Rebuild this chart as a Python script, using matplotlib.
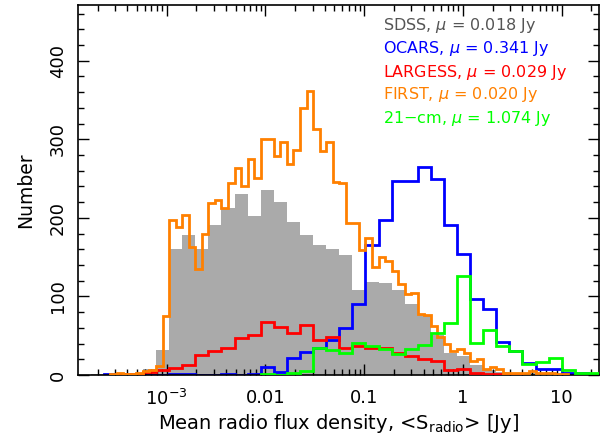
import numpy as np
import matplotlib
matplotlib.use("Agg")
import matplotlib.pyplot as plt
from matplotlib.ticker import FixedLocator, FixedFormatter, MultipleLocator, NullFormatter

# ---------------- data ----------------
bin_width_dex = 0.1325      # histogram bin width in log10(Jy)
bin_origin_log = -3.108     # log10 of a reference bin edge

# SDSS (filled grey histogram)
sdss_first_bin = -5
sdss_counts = [1, 1, 2, 3, 8, 32, 160, 178, 161, 191, 213, 231, 202, 236, 220,
               195, 178, 165, 160, 153, 108, 118, 117, 108, 90, 77, 51, 28, 24,
               13, 6, 4, 3, 2, 2, 1]

# OCARS
ocars_first_bin = -4
ocars_counts = [1, 0, 0, 0, 0, 1, 1, 0, 0, 1, 0, 1, 10, 4, 22, 29, 35, 45, 60,
                90, 165, 197, 247, 247, 265, 250, 191, 154, 97, 84, 42, 31, 15,
                8, 8, 3, 3, 1]

# LARGESS
largess_first_bin = -3
largess_counts = [1, 1, 4, 6, 9, 13, 25, 30, 34, 47, 51, 67, 61, 54, 64, 44, 48,
                  34, 37, 34, 35, 28, 24, 21, 18, 7, 8, 2, 1, 1, 1]

# FIRST (half-width bins)
first_first_bin = -7
first_counts = [1, 2, 1, 1, 3, 5, 7, 12, 75, 197, 188, 204, 163, 135, 180, 219,
                223, 213, 244, 264, 240, 275, 251, 300, 301, 279, 296, 268, 286,
                340, 362, 313, 285, 296, 246, 245, 194, 194, 159, 175, 138, 150,
                145, 133, 116, 103, 104, 78, 76, 62, 48, 40, 31, 33, 28, 18, 20,
                8, 10, 8, 3, 2, 2, 3, 5, 3, 2, 2, 1, 1]

# 21-cm
cm21_first_bin = 8
cm21_counts = [1, 0, 2, 5, 34, 32, 28, 41, 37, 33, 27, 33, 38, 54, 66, 126, 41,
               57, 37, 30, 14, 16, 22, 6, 2, 3]

legend_labels = ["SDSS, $\\mu$ = 0.018 Jy", "OCARS, $\\mu$ = 0.341 Jy",
                 "LARGESS, $\\mu$ = 0.029 Jy", "FIRST, $\\mu$ = 0.020 Jy",
                 "21\u2212cm, $\\mu$ = 1.074 Jy"]
xtick_values = [1e-3, 0.01, 0.1, 1, 10]
xtick_labels = ["10$^{-3}$", "0.01", "0.1", "1", "10"]


def edges_for(first, n, width):
    idx = first + np.arange(n + 1)
    return 10 ** (bin_origin_log + width * idx)


# ---------------- figure ----------------
W, H = 604, 434
fig = plt.figure(figsize=(W / 100, H / 100), dpi=100)
ax_l, ax_r, ax_t, ax_b = 78, 599, 5, 375
ax = fig.add_axes([ax_l / W, 1 - ax_b / H, (ax_r - ax_l) / W, (ax_b - ax_t) / H])

c_gray_fill = "#aaaaaa"
c_gray_txt = "#555555"
c_blue = "#0000ff"
c_red = "#ff0000"
c_orange = "#ff8000"
c_green = "#00ff00"
lw = 2.0

ax.stairs(sdss_counts, edges_for(sdss_first_bin, len(sdss_counts), bin_width_dex),
          fill=True, color=c_gray_fill, lw=0, zorder=1)
ax.stairs(ocars_counts, edges_for(ocars_first_bin, len(ocars_counts), bin_width_dex),
          color=c_blue, lw=lw, zorder=2)
ax.stairs(largess_counts, edges_for(largess_first_bin, len(largess_counts), bin_width_dex),
          color=c_red, lw=lw, zorder=3)
ax.stairs(first_counts, edges_for(first_first_bin, len(first_counts), bin_width_dex / 2),
          color=c_orange, lw=lw, zorder=4)
ax.stairs(cm21_counts, edges_for(cm21_first_bin, len(cm21_counts), bin_width_dex),
          color=c_green, lw=lw, zorder=5)

ax.set_xscale("log")
ax.set_xlim(10 ** -3.898, 10 ** 1.377)
ax.set_ylim(0, 471)

# ticks
ax.xaxis.set_major_locator(FixedLocator(xtick_values))
ax.xaxis.set_major_formatter(FixedFormatter(xtick_labels))
minor = [m * 10.0 ** e for e in range(-4, 2) for m in range(2, 10)]
ax.xaxis.set_minor_locator(FixedLocator(minor))
ax.xaxis.set_minor_formatter(NullFormatter())
ax.yaxis.set_major_locator(MultipleLocator(100))
ax.yaxis.set_minor_locator(MultipleLocator(20))

ax.tick_params(which="both", direction="in", top=True, right=True, width=1.0,
               colors="black", labelsize=13)
ax.tick_params(which="major", length=8)
ax.tick_params(which="minor", length=4.5)
ax.tick_params(axis="x", pad=10)
ax.tick_params(axis="y", pad=8, labelrotation=90)
for lab in ax.get_yticklabels():
    lab.set_va("center")

for sp in ax.spines.values():
    sp.set_linewidth(1.2)

ax.set_ylabel("Number", fontsize=13.5)
ax.yaxis.set_label_coords((35 - ax_l) / (ax_r - ax_l), 0.5)
ax.set_xlabel("Mean radio flux density, <S$_{\\rm radio}$> [Jy]", fontsize=14)
ax.xaxis.label.set_va("baseline")
ax.xaxis.set_label_coords(0.5, (ax_b - 429) / (ax_b - ax_t))

# legend text
text_colors = [c_gray_txt, c_blue, c_red, c_orange, c_green]
baselines = [30, 53.3, 76.5, 99.5, 122.5]
tx = (382.7 - ax_l) / (ax_r - ax_l)
for lab, col, by in zip(legend_labels, text_colors, baselines):
    ax.text(tx, (ax_b - by) / (ax_b - ax_t), lab, color=col, fontsize=11.5,
            transform=ax.transAxes, ha="left", va="baseline")

fig.savefig("out.png", dpi=100)
